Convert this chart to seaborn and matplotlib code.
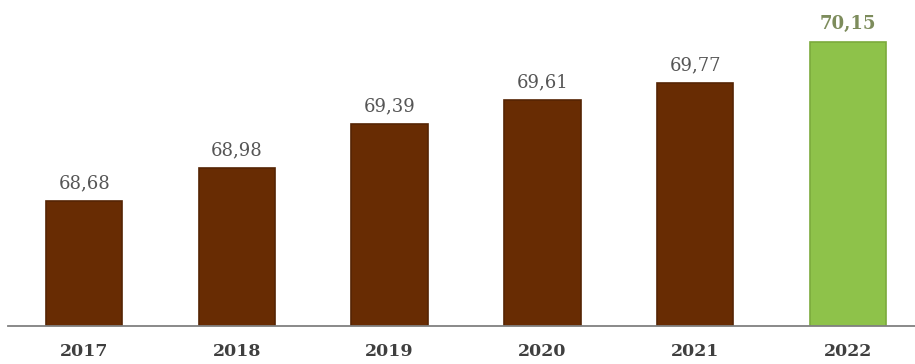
import matplotlib
matplotlib.use("Agg")
import matplotlib.pyplot as plt
import seaborn as sns
import pandas as pd

# Podaci
godine = ["2017", "2018", "2019", "2020", "2021", "2022"]
vrijednosti = [68.68, 68.98, 69.39, 69.61, 69.77, 70.15]
boje = ["#682C03", "#682C03", "#682C03", "#682C03", "#682C03", "#8EC24A"]
rubovi = ["#552403", "#552403", "#552403", "#552403", "#552403", "#7BAA3C"]

df = pd.DataFrame({"godina": godine, "vrijednost": vrijednosti})

sns.set_theme(style="white")
fig = plt.figure(figsize=(9.15, 3.64), dpi=100)
ax = fig.add_axes([0.009, 0.104, 0.991, 0.896])

sns.barplot(data=df, x="godina", y="vrijednost", hue="godina", palette=boje,
            legend=False, width=0.5, ax=ax, saturation=1)

for i, p in enumerate(ax.patches):
    p.set_edgecolor(rubovi[i])
    p.set_linewidth(1.2)

ax.set_ylim(67.52, 70.54)
ax.set_xlim(-0.497, 5.44)

# Oznake vrijednosti iznad stupaca
for i, v in enumerate(vrijednosti):
    zadnji = i == len(vrijednosti) - 1
    ax.text(i, v + 0.08, f"{v:.2f}".replace(".", ","), ha="center", va="bottom",
            fontsize=13, family="DejaVu Serif",
            color="#7D8C5C" if zadnji else "#555555",
            fontweight="bold" if zadnji else "normal")

for s in ["top", "right", "left"]:
    ax.spines[s].set_visible(False)
ax.spines["bottom"].set_color("#808080")
ax.spines["bottom"].set_linewidth(1.3)

ax.set_yticks([])
ax.set_xlabel("")
ax.set_ylabel("")
ax.tick_params(axis="x", length=0, pad=12)
for lbl in ax.get_xticklabels():
    lbl.set_family("DejaVu Serif")
    lbl.set_fontweight("bold")
    lbl.set_fontsize(12.5)
    lbl.set_color("#3F3F3F")

fig.savefig("out.png", dpi=100)
